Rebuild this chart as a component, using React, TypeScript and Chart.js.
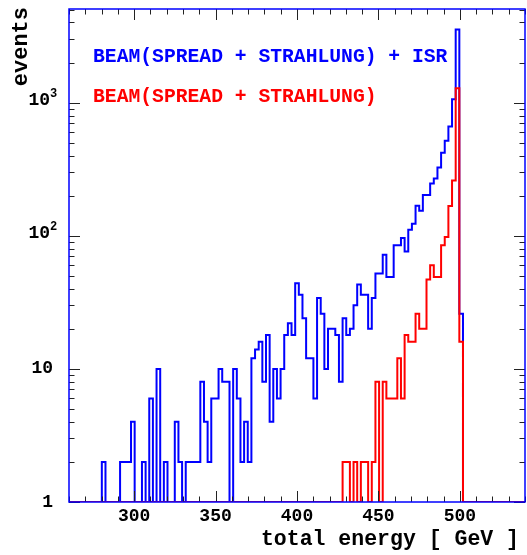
import React, { useEffect, useRef } from 'react';
import { Chart, registerables } from 'chart.js';

Chart.register(...registerables);

// Histogram binning: bin k covers [BIN_LOW + k*BIN_WIDTH, BIN_LOW + (k+1)*BIN_WIDTH]
const BIN_LOW = 260;
const BIN_WIDTH = 2.24;

// BEAM(SPREAD + STRAHLUNG) + ISR  (blue), 125 bins
const beamIsrCounts = [
  0, 0, 0, 0, 0, 0, 0, 0, 0, 2,
  0, 0, 0, 0, 2, 2, 2, 4, 0, 0,
  2, 0, 6, 0, 10, 0, 2, 0, 0, 4,
  2, 0, 2, 2, 2, 2, 8, 4, 2, 6,
  6, 10, 8, 8, 0, 10, 6, 2, 4, 2,
  12, 14, 16, 8, 18, 4, 10, 6, 10, 18,
  22, 18, 44, 36, 24, 12, 12, 6, 34, 26,
  10, 20, 20, 18, 8, 24, 18, 20, 30, 43,
  36, 36, 20, 34, 52, 52, 72, 49, 49, 85,
  85, 96, 76, 111, 123, 168, 154, 202, 202, 247,
  269, 325, 420, 518, 662, 1060, 3550, 26, 0, 0,
  0, 0, 0, 0, 0, 0, 0, 0, 0, 0,
  0, 0, 0, 0, 0,
];

// BEAM(SPREAD + STRAHLUNG)  (red), 125 bins
const beamCounts = [
  0, 0, 0, 0, 0, 0, 0, 0, 0, 0,
  0, 0, 0, 0, 0, 0, 0, 0, 0, 0,
  0, 0, 0, 0, 0, 0, 0, 0, 0, 0,
  0, 0, 0, 0, 0, 0, 0, 0, 0, 0,
  0, 0, 0, 0, 0, 0, 0, 0, 0, 0,
  0, 0, 0, 0, 0, 0, 0, 0, 0, 0,
  0, 0, 0, 0, 0, 0, 0, 0, 0, 0,
  0, 0, 0, 0, 0, 2, 2, 0, 2, 0,
  2, 2, 0, 2, 8, 0, 8, 6, 6, 6,
  12, 6, 18, 16, 16, 26, 20, 20, 47, 60,
  49, 49, 85, 98, 167, 260, 1280, 16, 0, 0,
  0, 0, 0, 0, 0, 0, 0, 0, 0, 0,
  0, 0, 0, 0, 0,
];

const X_MIN = 260;
const X_MAX = 540;
const Y_MIN = 1;
const Y_MAX = 5050;
const xMajorTicks = [300, 350, 400, 450, 500];
const X_MINOR_STEP = 10;
const yMajorTicks = [1, 10, 100, 1000];
const yTickBases = ['1', '10', '10', '10'];
const yTickExps = ['', '', '2', '3'];
const legendLabels = ['BEAM(SPREAD + STRAHLUNG) + ISR', 'BEAM(SPREAD + STRAHLUNG)'];
const legendColors = ['#0000ff', '#ff0000'];
const xTitle = 'total energy [ GeV ]';
const yTitle = 'events';

const FONT = '"Liberation Mono", "DejaVu Sans Mono", monospace';

function toSteps(counts: number[]) {
  const pts = counts.map((c, k) => ({ x: BIN_LOW + k * BIN_WIDTH, y: c }));
  pts.push({ x: BIN_LOW + counts.length * BIN_WIDTH, y: counts[counts.length - 1] });
  return pts;
}

const decorPlugin = {
  id: 'decor',
  afterDatasetsDraw(chart: any) {
    const { ctx, chartArea: a, scales } = chart;
    const xs = scales.x;
    const ys = scales.y;
    const line = (x1: number, y1: number, x2: number, y2: number) => {
      ctx.beginPath();
      ctx.moveTo(x1, y1);
      ctx.lineTo(x2, y2);
      ctx.stroke();
    };
    ctx.save();
    // ticks
    ctx.strokeStyle = '#222';
    ctx.lineWidth = 1;
    for (let v = X_MIN; v <= X_MAX; v += X_MINOR_STEP) {
      const px = Math.round(xs.getPixelForValue(v)) + 0.5;
      const len = xMajorTicks.includes(v) ? 11 : 5.5;
      line(px, a.bottom, px, a.bottom - len);
      line(px, a.top, px, a.top + len);
    }
    for (const d of yMajorTicks) {
      for (let m = 1; m <= 9; m++) {
        const v = d * m;
        if (v > Y_MAX) break;
        const py = Math.round(ys.getPixelForValue(v)) + 0.5;
        const len = m === 1 ? 11 : 5.5;
        line(a.left, py, a.left + len, py);
        line(a.right, py, a.right - len, py);
      }
    }
    // frame
    ctx.strokeStyle = '#0000ff';
    ctx.lineWidth = 1.5;
    ctx.strokeRect(a.left, a.top, a.right - a.left, a.bottom - a.top);

    // x tick labels
    ctx.fillStyle = '#000';
    ctx.font = `bold 18px ${FONT}`;
    ctx.textAlign = 'center';
    ctx.textBaseline = 'middle';
    for (const v of xMajorTicks) {
      ctx.fillText(String(v), xs.getPixelForValue(v), a.bottom + 14);
    }
    // y tick labels
    yMajorTicks.forEach((v, i) => {
      const py = ys.getPixelForValue(v);
      const exp = yTickExps[i];
      ctx.font = `bold 18px ${FONT}`;
      ctx.textBaseline = 'middle';
      if (exp) {
        ctx.textAlign = 'right';
        ctx.fillText(yTickBases[i], 50, py - 2);
        ctx.font = `bold 12px ${FONT}`;
        ctx.textAlign = 'left';
        ctx.fillText(exp, 50, py - 9);
      } else {
        ctx.textAlign = 'right';
        ctx.fillText(yTickBases[i], 53, py);
      }
    });
    // axis titles
    ctx.font = `bold 21.5px ${FONT}`;
    ctx.textAlign = 'right';
    ctx.textBaseline = 'alphabetic';
    ctx.fillText(xTitle, 519, 545);
    ctx.font = `bold 22px ${FONT}`;
    ctx.save();
    ctx.translate(27, 7);
    ctx.rotate(-Math.PI / 2);
    ctx.textAlign = 'right';
    ctx.fillText(yTitle, 0, 0);
    ctx.restore();

    // legend texts
    ctx.font = `bold 19.7px ${FONT}`;
    ctx.textAlign = 'left';
    ctx.textBaseline = 'middle';
    legendLabels.forEach((t, i) => {
      ctx.fillStyle = legendColors[i];
      ctx.fillText(t, 93, 57 + i * 40);
    });
    ctx.restore();
  },
};

export default function App() {
  const ref = useRef<HTMLCanvasElement>(null);
  useEffect(() => {
    if (!ref.current) return;
    const chart = new Chart(ref.current, {
      type: 'line',
      data: {
        datasets: [
          {
            label: legendLabels[1],
            data: toSteps(beamCounts),
            borderColor: '#ff0000',
            borderWidth: 2,
            stepped: 'before',
            pointRadius: 0,
            fill: false,
            order: 0,
          },
          {
            label: legendLabels[0],
            data: toSteps(beamIsrCounts),
            borderColor: '#0000ff',
            borderWidth: 2,
            stepped: 'before',
            pointRadius: 0,
            fill: false,
            order: 1,
          },
        ],
      },
      options: {
        animation: false,
        responsive: false,
        devicePixelRatio: 1,
        parsing: false,
        layout: { padding: { left: 69, right: 2, top: 9, bottom: 53 } },
        plugins: { legend: { display: false }, tooltip: { enabled: false } },
        scales: {
          x: { type: 'linear', min: X_MIN, max: X_MAX, display: false },
          y: { type: 'logarithmic', min: Y_MIN, max: Y_MAX, display: false },
        },
      },
      plugins: [decorPlugin],
    });
    return () => chart.destroy();
  }, []);
  return (
    <div style={{ position: 'absolute', left: 0, top: 0, width: 527, height: 555, background: '#fff' }}>
      <canvas ref={ref} width={527} height={555} />
    </div>
  );
}
